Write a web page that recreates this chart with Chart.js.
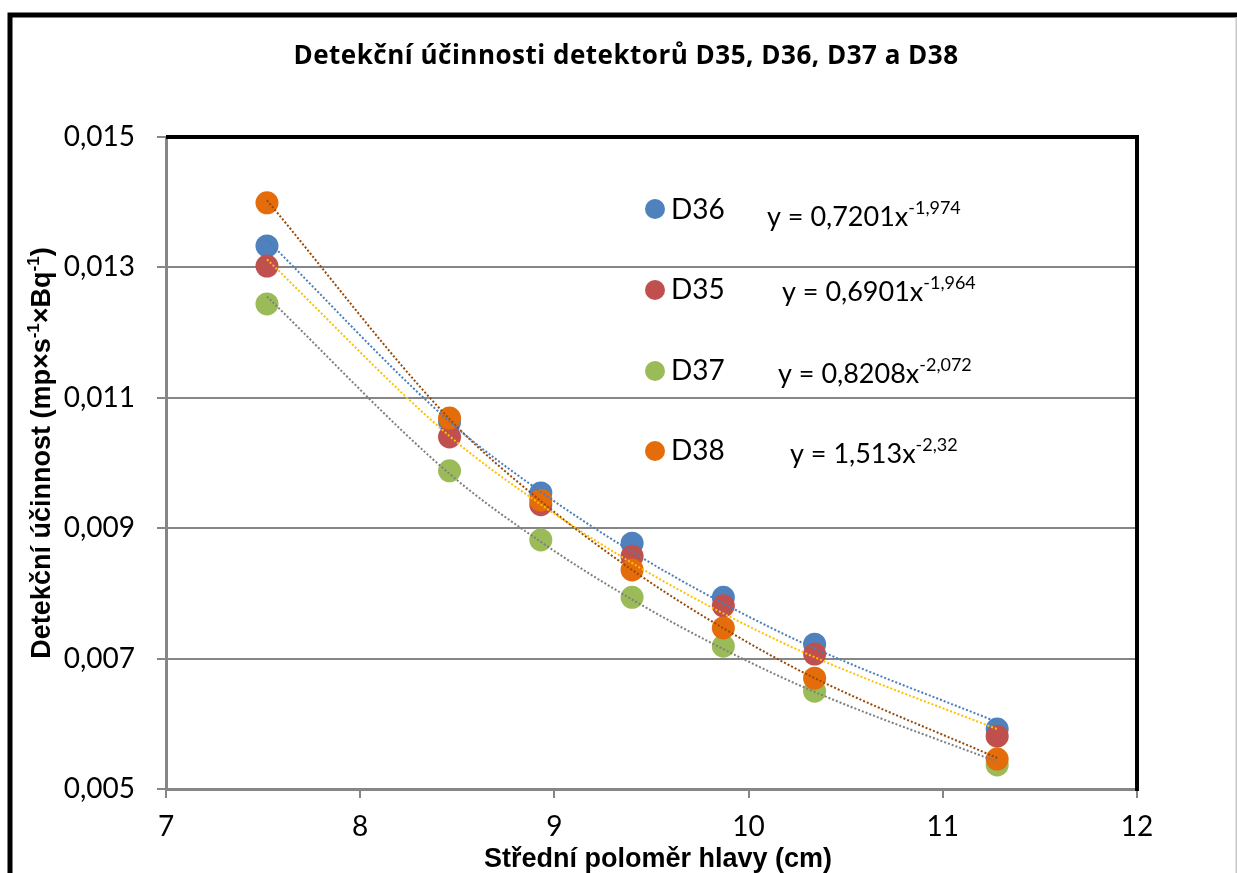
<!DOCTYPE html>
<html>
<head>
<meta charset="utf-8">
<script src="https://cdn.jsdelivr.net/npm/chart.js@4.4.1/dist/chart.umd.min.js"></script>
<style>
  html, body { margin: 0; padding: 0; background: #fff; }
  canvas { display: block; }
</style>
</head>
<body>
<canvas id="chart" width="1237" height="873"></canvas>
<script>
'use strict';

// ── Data ─────────────────────────────────────────────────────────
const radius = [7.52, 8.46, 8.93, 9.40, 9.87, 10.34, 11.28];

const d36 = [0.01333, 0.01063, 0.00954, 0.00877, 0.00794, 0.00722, 0.00592];
const d35 = [0.01302, 0.01040, 0.00936, 0.00857, 0.00781, 0.00707, 0.00581];
const d37 = [0.01244, 0.00988, 0.00882, 0.00794, 0.00719, 0.00650, 0.00537];
const d38 = [0.01399, 0.01069, 0.00943, 0.00836, 0.00747, 0.00670, 0.00546];

// trendline (power fit) values as shown in the picture
const d36Trend = [0.013420, 0.010636, 0.009559, 0.008638, 0.007846, 0.007157, 0.006027];
const d35Trend = [0.013123, 0.010412, 0.009364, 0.008466, 0.007692, 0.007021, 0.005918];
const d37Trend = [0.012552, 0.009834, 0.008791, 0.007906, 0.007146, 0.006489, 0.005418];
const d38Trend = [0.014029, 0.010674, 0.009416, 0.008360, 0.007465, 0.006701, 0.005476];

const legendNames = ['D36', 'D35', 'D37', 'D38'];
const eqMain = ['y = 0,7201x', 'y = 0,6901x', 'y = 0,8208x', 'y = 1,513x'];
const eqExp  = ['-1,974', '-1,964', '-2,072', '-2,32'];

const chartTitle = 'Detekční účinnosti detektorů D35, D36, D37 a D38';
const xTitle = 'Střední poloměr hlavy (cm)';

// ── Styles ───────────────────────────────────────────────────────
const COLORS = { d36: '#4F81BD', d35: '#C0504D', d37: '#9BBB59', d38: '#E46C0A' };
const TREND  = { d36: '#4A7EBB', d35: '#FFC000', d37: '#7F7F7F', d38: '#984807' };
const LEGEND_COLORS = [COLORS.d36, COLORS.d35, COLORS.d37, COLORS.d38];
const GRID = '#868686';
const NUM_FONT = 'Lato, "Open Sans", sans-serif';
const TITLE_FONT = '"Open Sans", Lato, sans-serif';
const BOLD_FONT = '"Liberation Sans", Arial, sans-serif';

const pts = ys => radius.map((x, i) => ({ x, y: ys[i] }));

function pointSet(label, ys, color, order) {
  return {
    type: 'scatter', label, data: pts(ys), order,
    backgroundColor: color, borderColor: color, borderWidth: 0,
    pointRadius: 11.5, pointHoverRadius: 11.5,
  };
}

function trendSet(label, ys, color) {
  return {
    type: 'line', label, data: pts(ys), order: 0,
    borderColor: color, borderWidth: 2, borderDash: [2, 2],
    cubicInterpolationMode: 'monotone', pointRadius: 0, fill: false,
  };
}

// ── Rich text (superscripts) ─────────────────────────────────────
function drawRich(ctx, parts, x, y, align) {
  const widths = parts.map(p => { ctx.font = p.font; return ctx.measureText(p.t).width; });
  const total = widths.reduce((a, b) => a + b, 0);
  let cx = align === 'center' ? x - total / 2 : x;
  ctx.textAlign = 'left';
  ctx.textBaseline = 'alphabetic';
  parts.forEach((p, i) => {
    ctx.font = p.font;
    ctx.fillText(p.t, cx, y - (p.rise || 0));
    cx += widths[i];
  });
}

// ── Decorations plugin ───────────────────────────────────────────
const decorations = {
  id: 'decorations',
  beforeDraw(chart) {
    const ctx = chart.ctx;
    ctx.save();
    ctx.fillStyle = '#fff';
    ctx.fillRect(0, 0, chart.width, chart.height);
    ctx.restore();
  },
  afterDraw(chart) {
    const { ctx, chartArea: a } = chart;
    ctx.save();

    // outer frame
    ctx.strokeStyle = '#000';
    ctx.lineWidth = 5;
    ctx.beginPath();
    ctx.moveTo(10, chart.height); ctx.lineTo(10, 15); ctx.lineTo(chart.width, 15);
    ctx.stroke();
    ctx.strokeStyle = '#c8c8c8';
    ctx.lineWidth = 1.5;
    ctx.beginPath();
    ctx.moveTo(chart.width - 0.75, 17); ctx.lineTo(chart.width - 0.75, chart.height);
    ctx.stroke();

    // plot area top and right edges
    ctx.strokeStyle = '#000';
    ctx.lineWidth = 4;
    ctx.beginPath();
    ctx.moveTo(a.left, a.top); ctx.lineTo(a.right, a.top); ctx.lineTo(a.right, a.bottom + 2);
    ctx.stroke();

    ctx.fillStyle = '#000';

    // title
    ctx.save();
    ctx.font = 'bold 26px ' + TITLE_FONT;
    ctx.letterSpacing = '0.5px';
    ctx.textAlign = 'center';
    ctx.textBaseline = 'alphabetic';
    ctx.fillText(chartTitle, 626, 64);
    ctx.restore();

    // x axis title
    ctx.font = 'bold 27px ' + BOLD_FONT;
    ctx.textAlign = 'center';
    ctx.textBaseline = 'alphabetic';
    ctx.fillText(xTitle, 658, 867);

    // y axis title
    ctx.save();
    ctx.translate(50, 453);
    ctx.rotate(-Math.PI / 2);
    const b = 'bold 27px ' + BOLD_FONT, s = 'bold 17px ' + BOLD_FONT;
    drawRich(ctx, [
      { t: 'Detekční účinnost (mp×s', font: b },
      { t: '-1', font: s, rise: 11 },
      { t: '×Bq', font: b },
      { t: '-1', font: s, rise: 11 },
      { t: ')', font: b },
    ], 0, 0, 'center');
    ctx.restore();

    // legend with equations
    const centers = [209, 290, 371, 451];
    const labelBase = [219, 299, 380, 460];
    const eqBase = [226, 301, 383, 463];
    const eqX = [767, 782, 778, 790];
    legendNames.forEach((name, i) => {
      ctx.fillStyle = LEGEND_COLORS[i];
      ctx.beginPath();
      ctx.arc(655, centers[i], 10, 0, Math.PI * 2);
      ctx.fill();
      ctx.fillStyle = '#000';
      ctx.font = '28px ' + NUM_FONT;
      ctx.textAlign = 'left';
      ctx.fillText(name, 671, labelBase[i]);
      drawRich(ctx, [
        { t: eqMain[i], font: '27px ' + NUM_FONT },
        { t: eqExp[i], font: '18px ' + NUM_FONT, rise: 12 },
      ], eqX[i], eqBase[i], 'left');
    });

    ctx.restore();
  },
};

// ── Chart ────────────────────────────────────────────────────────
new Chart(document.getElementById('chart'), {
  type: 'scatter',
  data: {
    datasets: [
      trendSet('D36 trend', d36Trend, TREND.d36),
      trendSet('D35 trend', d35Trend, TREND.d35),
      trendSet('D37 trend', d37Trend, TREND.d37),
      trendSet('D38 trend', d38Trend, TREND.d38),
      pointSet('D36', d36, COLORS.d36, 4),
      pointSet('D35', d35, COLORS.d35, 3),
      pointSet('D37', d37, COLORS.d37, 2),
      pointSet('D38', d38, COLORS.d38, 1),
    ],
  },
  options: {
    responsive: false,
    animation: false,
    layout: { padding: { left: 0, top: 137, right: 100, bottom: 0 } },
    plugins: { legend: { display: false }, title: { display: false }, tooltip: { enabled: false } },
    scales: {
      x: {
        type: 'linear', min: 7, max: 12,
        ticks: { stepSize: 1, color: '#000', font: { family: NUM_FONT, size: 28 }, padding: 12 },
        grid: { drawOnChartArea: false, color: GRID, lineWidth: 2, tickLength: 9 },
        border: { color: GRID, width: 3 },
        afterFit: scale => { scale.height = 84; },
      },
      y: {
        type: 'linear', min: 0.005, max: 0.015,
        ticks: {
          stepSize: 0.002, color: '#000', font: { family: NUM_FONT, size: 28 }, padding: 22,
          callback: v => v.toFixed(3).replace('.', ','),
        },
        grid: { color: GRID, lineWidth: 2, tickLength: 9 },
        border: { color: GRID, width: 3 },
        afterFit: scale => { scale.width = 166; },
      },
    },
  },
  plugins: [decorations],
});
</script>
</body>
</html>
